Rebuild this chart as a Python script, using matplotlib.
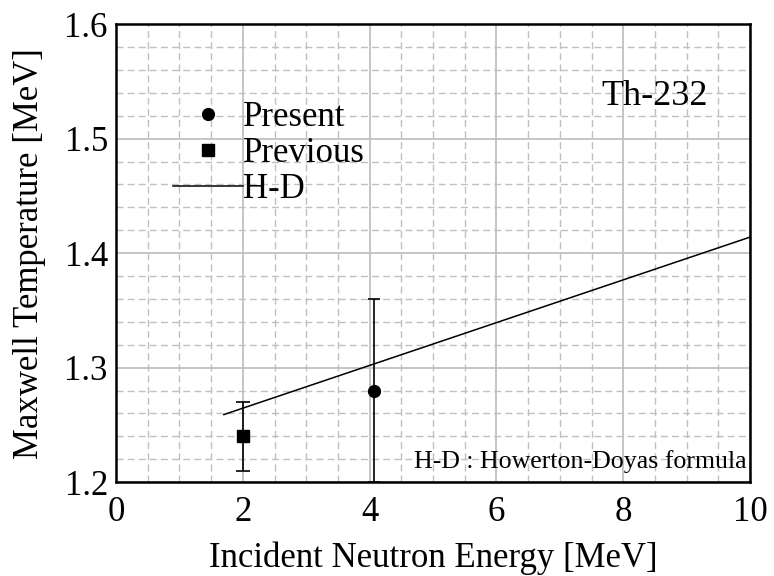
import numpy as np
import matplotlib
matplotlib.use("Agg")
import matplotlib.pyplot as plt
from matplotlib.ticker import MultipleLocator

plt.rcParams["font.family"] = ["Liberation Serif", "DejaVu Serif"]

# measured points
present_energy = [4.07]
present_temp = [1.28]
present_err = [0.08]

previous_energy = [2.0]
previous_temp = [1.24]
previous_err = [0.03]

# Howerton-Doyas curve (end points)
hd_energy = [1.7, 10.0]
hd_temp = [1.259, 1.414]

x_ticks = [0, 2, 4, 6, 8, 10]
y_ticks = [1.2, 1.3, 1.4, 1.5, 1.6]


def main():
    fig = plt.figure(figsize=(7.74, 5.76), dpi=100)
    ax = fig.add_axes([0.150, 0.163, 0.819, 0.795])

    ax.set_xlim(0, 10)
    ax.set_ylim(1.2, 1.6)
    ax.set_xticks(x_ticks)
    ax.set_yticks(y_ticks)
    ax.xaxis.set_minor_locator(MultipleLocator(0.5))
    ax.yaxis.set_minor_locator(MultipleLocator(0.02))
    ax.grid(which="major", color="#c0c0c0", linestyle="-", linewidth=1.3)
    ax.grid(which="minor", color="#c0c0c0", linestyle=(0, (5, 3)), linewidth=1.0)
    ax.set_axisbelow(True)
    ax.tick_params(which="both", length=0, labelsize=25)
    ax.tick_params(axis="x", pad=10)
    ax.tick_params(axis="y", pad=6)
    for s in ax.spines.values():
        s.set_linewidth(1.8)
        s.set_zorder(5)

    hd_line, = ax.plot(hd_energy, hd_temp, color="black", linewidth=1.1, zorder=3)
    pres = ax.errorbar(present_energy, present_temp, yerr=present_err, fmt="o",
                       color="black", markersize=8.5, capsize=4.5, elinewidth=1.2,
                       capthick=1.2, zorder=4)
    prev = ax.errorbar(previous_energy, previous_temp, yerr=previous_err, fmt="s",
                       color="black", markersize=9, capsize=5, elinewidth=1.2,
                       capthick=1.2, zorder=4)

    # legend shows only the markers, not the error bars
    ax.legend([pres[0], prev[0], hd_line], ["Present", "Previous", "H-D"],
              loc="upper left", bbox_to_anchor=(0.09, 0.832),
              frameon=False, fontsize=25, handlelength=2.0,
              handletextpad=0.0, labelspacing=0.09, borderpad=0,
              borderaxespad=0)

    ax.text(0.934, 0.823, "Th-232", transform=ax.transAxes, fontsize=26,
            ha="right", va="baseline")
    ax.text(0.995, 0.031, "H-D : Howerton-Doyas formula", transform=ax.transAxes,
            fontsize=18.6, ha="right", va="baseline")

    ax.set_xlabel("Incident Neutron Energy [MeV]", fontsize=25, labelpad=9)
    ax.set_ylabel("Maxwell Temperature [MeV]", fontsize=25, labelpad=13)

    fig.savefig("out.png", dpi=100)


if __name__ == "__main__":
    main()
